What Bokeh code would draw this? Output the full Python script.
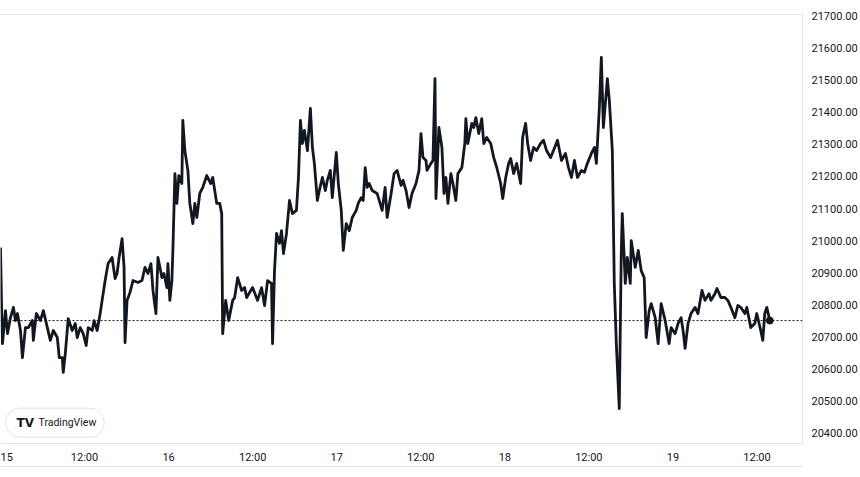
from bokeh.plotting import figure
from bokeh.models import Range1d, LinearAxis, FixedTicker, PrintfTickFormatter, Span, Label, Grid
from bokeh.embed import file_html
from bokeh.resources import INLINE

# hours since day 15 00:00
hours = [0.0, 0.14, 0.28, 0.71, 1.0, 1.42, 1.85, 2.13, 2.42, 2.85, 3.13, 3.56, 3.98, 4.55, 4.69, 5.12,
         5.69, 6.12, 6.69, 7.11, 7.54, 8.11, 8.39, 8.82, 8.96, 9.25, 9.67, 10.24, 10.67, 10.95, 11.38,
         11.81, 12.23, 12.52, 13.09, 13.37, 13.80, 14.23, 14.51, 14.94, 15.36, 15.93, 16.36, 16.64,
         16.93, 17.36, 17.64, 17.78, 18.07, 18.49,
         18.92, 19.63, 20.20, 20.63, 21.05, 21.48, 21.77, 22.19, 22.48, 23.05, 23.33, 23.76, 23.90,
         24.18, 24.47, 24.61, 24.90, 25.18, 25.46, 25.89, 26.03, 26.32, 26.75, 27.03, 27.46, 27.74,
         28.03, 28.45, 28.88, 29.45, 30.02, 30.30, 30.87, 31.30, 31.58, 31.72, 32.15, 32.58, 33.15,
         33.43, 33.86, 34.43, 34.85,
         35.14, 35.99, 36.70, 37.27, 37.70, 38.13, 38.69, 38.84, 39.12, 39.41, 39.83, 40.12, 40.40,
         40.83, 41.26, 41.68, 42.25, 42.54, 42.82, 43.10, 43.39, 43.82, 44.24, 44.53, 44.81, 45.24,
         45.52, 45.95, 46.38, 46.66, 47.09, 47.37, 47.94, 48.23, 48.65, 48.94, 49.36, 49.79, 50.22,
         50.79, 51.07, 51.50, 51.78, 52.07, 52.35,
         52.64, 53.06, 53.77, 54.49, 54.91, 55.20, 55.77, 56.19, 56.62, 57.19, 57.47, 57.90, 58.33,
         58.75, 59.32, 59.75, 60.03, 60.32, 60.75, 60.89, 61.46, 61.74, 62.03, 62.17, 62.59, 63.02,
         63.31, 63.59, 63.88, 64.30, 64.59, 65.01, 65.30, 65.87, 66.29, 66.44, 66.72, 67.29, 67.57,
         67.86, 68.28, 68.71, 69.00, 69.42, 69.99, 70.42, 70.85, 71.41, 71.70, 72.13,
         72.55, 72.84, 73.26, 73.69, 74.26, 74.54, 74.97, 75.26, 75.68, 76.11, 76.54, 77.10, 77.53,
         77.96, 78.53, 78.95, 79.52, 80.09, 80.66, 81.09, 81.51, 81.94, 82.37, 82.94, 83.36, 83.79,
         84.36, 84.79, 85.07, 85.50, 85.78, 86.07, 86.64, 86.92, 87.35,
         87.63, 87.92, 88.34, 88.63, 88.77, 89.20, 89.48, 89.91, 90.05, 90.62, 91.05, 91.47, 91.90,
         92.18, 92.61, 92.90, 93.47, 93.89, 94.32, 94.89, 95.46, 95.74, 96.31, 96.74, 97.17, 97.45,
         97.74, 98.16, 98.59, 99.16, 99.58, 100.15, 100.58, 101.15, 101.43, 102.00, 102.29, 102.85,
         103.42, 103.85, 104.28, 104.85, 105.27, 105.70, 106.27, 106.55, 107.12, 107.69, 107.97,
         108.54, 108.83, 109.11, 109.40, 109.83]

prices = [20978, 20813, 20678, 20781, 20709, 20759, 20791, 20750, 20772, 20719, 20634, 20728, 20728,
          20750, 20688, 20772, 20750, 20781, 20728, 20688, 20719, 20697, 20634, 20634, 20588, 20647,
          20756, 20719, 20741, 20697, 20728, 20709, 20672, 20728, 20719, 20750, 20719, 20772, 20813,
          20875, 20928, 20947, 20881, 20897, 20947, 21006, 20916, 20681, 20813, 20838,
          20875, 20869, 20875, 20916, 20897, 20928, 20844, 20772, 20947, 20884, 20897, 20853, 20928,
          20813, 20875, 20969, 21209, 21116, 21203, 21178, 21375, 21281, 21219, 21116, 21053, 21116,
          21072, 21147, 21166, 21203, 21178, 21197, 21116, 21116, 21084, 20709, 20813, 20750, 20813,
          20822, 20884, 20844, 20853,
          20822, 20853, 20813, 20853, 20797, 20875, 20866, 20678, 20906, 21022, 20991, 21031, 20959,
          21022, 21125, 21084, 21094, 21197, 21375, 21303, 21344, 21281, 21413, 21291, 21241, 21125,
          21156, 21197, 21156, 21188, 21219, 21134, 21275, 21178, 21094, 20969, 21053, 21031, 21072,
          21094, 21116, 21134, 21125, 21228, 21166,
          21178, 21156, 21147, 21094, 21166, 21072, 21147, 21209, 21219, 21172, 21188, 21156, 21103,
          21147, 21178, 21219, 21334, 21259, 21250, 21219, 21241, 21250, 21506, 21131, 21353, 21291,
          21147, 21197, 21116, 21209, 21178, 21125, 21209, 21228, 21303, 21381, 21303, 21366, 21353,
          21384, 21334, 21381, 21303, 21322, 21303, 21259, 21228, 21178, 21131, 21197,
          21241, 21256, 21209, 21241, 21178, 21322, 21366, 21303, 21250, 21291, 21281, 21303, 21313,
          21281, 21259, 21281, 21313, 21250, 21272, 21228, 21197, 21250, 21197, 21219, 21213, 21241,
          21272, 21291, 21241, 21416, 21572, 21353, 21506, 21438, 21281,
          20866, 20678, 20475, 20969, 21084, 20866, 20947, 20866, 21000, 20916, 20969, 20906, 20884,
          20697, 20781, 20803, 20759, 20678, 20803, 20750, 20678, 20728, 20709, 20741, 20759, 20719,
          20663, 20741, 20772, 20791, 20772, 20844, 20813, 20834, 20813, 20834, 20850, 20822,
          20822, 20813, 20791, 20759, 20797, 20791, 20772, 20791, 20728, 20741, 20772,
          20719, 20688, 20772, 20791, 20750]

y_ticks = list(range(20400, 21800, 100))
x_ticks = [0, 12, 24, 36, 48, 60, 72, 84, 96, 108]
x_labels = ["15", "12:00", "16", "12:00", "17", "12:00", "18", "12:00", "19", "12:00"]
last_price = 20750
brand = "TradingView"

TEXT = "#131722"
BORDER = "#e0e3eb"
FONT = "Roboto"

p = figure(width=860, height=470, output_backend="svg", toolbar_location=None,
           x_range=Range1d(0.0, 114.5), y_range=Range1d(20366, 21706),
           x_axis_location=None, y_axis_location=None,
           min_border_left=0, min_border_right=55, min_border_top=14, min_border_bottom=27,
           background_fill_color="white", border_fill_color="white")
p.outline_line_color = None
for r in list(p.center):
    if isinstance(r, Grid):
        r.visible = False


def plain_axis(ticks, **kw):
    ax = LinearAxis(ticker=FixedTicker(ticks=ticks), axis_line_color=BORDER, axis_line_width=1,
                    major_tick_line_color=None, minor_tick_line_color=None,
                    major_tick_in=0, major_tick_out=0, minor_tick_in=0, minor_tick_out=0,
                    major_label_text_color=TEXT, major_label_text_font=FONT,
                    major_label_text_font_size="11px", **kw)
    return ax


xaxis = plain_axis(x_ticks, major_label_overrides=dict(zip(x_ticks, x_labels)),
                   major_label_standoff=7)
p.add_layout(xaxis, "below")
xaxis2 = plain_axis([], major_label_standoff=0)
p.add_layout(xaxis2, "below")
topaxis = plain_axis([], major_label_standoff=0)
p.add_layout(topaxis, "above")
yaxis = plain_axis(y_ticks, formatter=PrintfTickFormatter(format="%.2f"), major_label_standoff=9)
p.add_layout(yaxis, "right")

p.line(hours, prices, line_color=TEXT, line_width=2.8, line_join="round")
p.add_layout(Span(location=last_price, dimension="width", line_color=TEXT,
                  line_dash="2 2", line_width=1))
p.scatter([hours[-1]], [prices[-1]], size=7, color=TEXT)

p.add_layout(Label(x=806, y=last_price, x_units="screen", text=f"{last_price:.2f}",
                   text_color="white", text_font=FONT, text_font_size="11px",
                   text_font_style="bold", text_baseline="middle", text_align="left",
                   background_fill_color=TEXT, padding=dict(left=3, right=4, top=2, bottom=2)))

p.add_layout(Label(x=5, y=20431, x_units="screen", text=brand, text_color=TEXT,
                   text_font=FONT, text_font_size="10.5px",
                   text_baseline="middle", text_align="left",
                   background_fill_color="white", border_line_color=BORDER,
                   border_radius=15, padding=dict(left=33, right=8, top=8, bottom=8)))
p.add_layout(Label(x=16, y=20431, x_units="screen", text="TV", text_color=TEXT,
                   text_font="DejaVu Sans", text_font_size="12px", text_font_style="bold",
                   text_baseline="middle", text_align="left"))

open("out.html", "w").write(file_html(p, INLINE))
